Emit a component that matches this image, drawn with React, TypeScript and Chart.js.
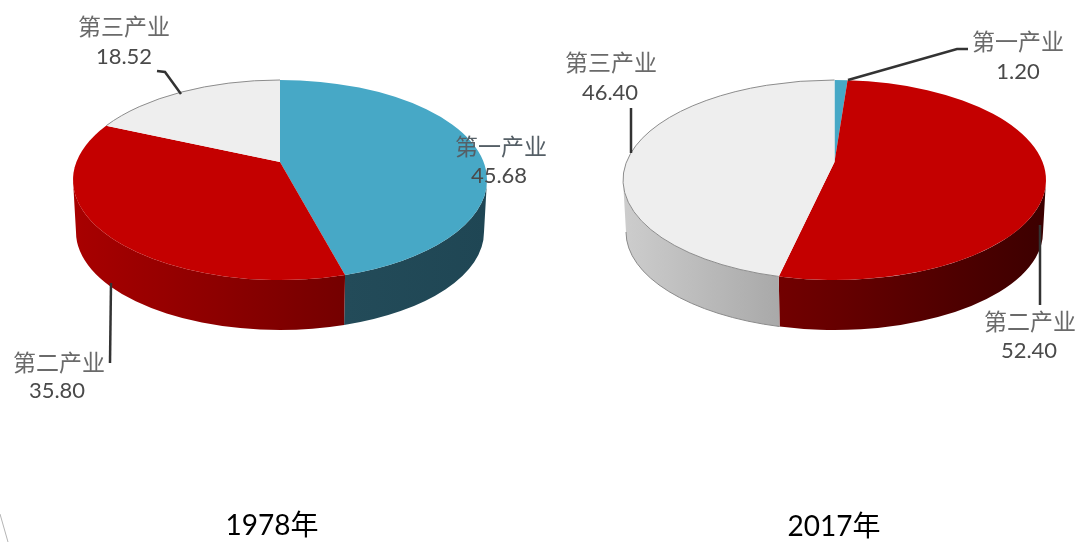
import React, { useEffect, useRef } from "react";
import { Chart, registerables } from "chart.js";

Chart.register(...registerables);

const categories = ["第一产业", "第二产业", "第三产业"];
const values1978 = [45.68, 35.8, 18.52];
const values2017 = [1.2, 52.4, 46.4];
const years = ["1978年", "2017年"];

const topColors = ["#47a8c6", "#c40000", "#eeeeee"];

const layouts = [
  {
    cx: 280, rx: 207,
    title: 272, titleY: 526,
    walls: [["#234b59", "#1f4654"], ["#a80000", "#740000"], ["#ccc", "#aaa"]],
    labels: [
      { x: 501, y: 146, nx: 499, ny: 176, line: [] },
      { x: 59, y: 362, nx: 57, ny: 391, line: [[110, 363], [111, 283]] },
      { x: 124, y: 26, nx: 124, ny: 57, line: [[157, 71], [165, 72], [181, 94]] },
    ],
  },
  {
    cx: 834.5, rx: 211.5,
    title: 834, titleY: 527,
    walls: [["#234b59", "#1f4654"], ["#720000", "#3c0000"], ["#cdcdcd", "#a9a9a9"]],
    labels: [
      { x: 1018, y: 41, nx: 1018, ny: 72, line: [[968, 49], [957, 49], [848, 80]] },
      { x: 1030, y: 321, nx: 1029, ny: 351, line: [[1040, 305], [1040, 225]] },
      { x: 611, y: 62, nx: 610, ny: 93, line: [[631, 108], [631, 153]] },
    ],
  },
];

const CY = 180;
const RY = 100;
const APEX_DY = -18;
const WALL_BOTTOM_CY = 232;
const WALL_BOTTOM_RY = 98;
const WALL_RX_INSET = 3;
const TAU = Math.PI * 2;

// Perspective: a ray leaves the off-centre apex and meets the rim ellipse.
function rimParam(angle: number, rx: number) {
  const dx = Math.cos(angle);
  const dy = Math.sin(angle);
  const c = APEX_DY / RY;
  const b = c * dy;
  const s = -b + Math.sqrt(b * b - (c * c - 1));
  const x = s * dx;
  const y = c + s * dy;
  return Math.atan2(y, x);
}

function makePlugin(layoutIndex: number) {
  const L = layouts[layoutIndex];
  return {
    id: "pie3d" + layoutIndex,
    beforeDatasetsDraw(chart: any) {
      const ctx = chart.ctx;
      const arcs = chart.getDatasetMeta(0).data;
      const { cx, rx } = L;
      const apexY = CY + APEX_DY;
      const rxb = rx - WALL_RX_INSET;

      const spans = arcs.map((el: any) => {
        let t0 = rimParam(el.startAngle, rx);
        let t1 = rimParam(el.endAngle, rx);
        while (t0 < 0) t0 += TAU;
        while (t1 <= t0) t1 += TAU;
        return [t0, t1];
      });

      // side walls
      spans.forEach(([t0, t1]: number[], i: number) => {
        [[0, Math.PI], [TAU, TAU + Math.PI]].forEach(([lo, hi]) => {
          const a = Math.max(t0, lo);
          const b = Math.min(t1, hi);
          if (b <= a) return;
          const xa = cx + rx * Math.cos(a);
          const xb = cx + rx * Math.cos(b);
          const g = ctx.createLinearGradient(Math.min(xa, xb), 0, Math.max(xa, xb), 0);
          const [c0, c1] = L.walls[i];
          g.addColorStop(0, c0);
          g.addColorStop(1, c1);
          ctx.beginPath();
          ctx.ellipse(cx, CY, rx, RY, 0, a, b);
          ctx.ellipse(cx, WALL_BOTTOM_CY, rxb, WALL_BOTTOM_RY, 0, b, a, true);
          ctx.closePath();
          ctx.fillStyle = g;
          ctx.fill();
          if (i === 2) {
            ctx.strokeStyle = "#8a8a8a";
            ctx.lineWidth = 1;
            ctx.beginPath();
            ctx.ellipse(cx, WALL_BOTTOM_CY, rxb, WALL_BOTTOM_RY, 0, b, a, true);
            ctx.stroke();
          }
        });
      });

      // top faces
      spans.forEach(([t0, t1]: number[], i: number) => {
        ctx.beginPath();
        ctx.moveTo(cx, apexY);
        ctx.ellipse(cx, CY, rx, RY, 0, t0, t1);
        ctx.closePath();
        ctx.fillStyle = arcs[i].options.backgroundColor;
        ctx.fill();
        if (i === 2) {
          ctx.strokeStyle = "#8c8c8c";
          ctx.lineWidth = 1;
          ctx.beginPath();
          ctx.ellipse(cx, CY, rx, RY, 0, t0, t1);
          ctx.stroke();
        }
      });
      return false;
    },
    afterDraw(chart: any) {
      const ctx = chart.ctx;
      ctx.save();
      ctx.textAlign = "center";
      ctx.textBaseline = "middle";
      const data = chart.data.datasets[0].data;
      L.labels.forEach((lab, i) => {
        if (lab.line.length) {
          ctx.strokeStyle = "#333333";
          ctx.lineWidth = 2.5;
          ctx.beginPath();
          lab.line.forEach(([x, y]: number[], k: number) => (k ? ctx.lineTo(x, y) : ctx.moveTo(x, y)));
          ctx.stroke();
        }
        ctx.fillStyle = i === 0 && layoutIndex === 0 ? "#555f66" : "#6a6a6a";
        ctx.font = '23px "Noto Sans CJK SC"';
        ctx.fillText(chart.data.labels[i], lab.x, lab.y);
        ctx.fillStyle = "#4a4a4a";
        ctx.font = "22px Lato";
        ctx.fillText(data[i].toFixed(2), lab.nx, lab.ny);
      });
      ctx.fillStyle = "#000000";
      ctx.font = '28px Lato, "Noto Sans CJK SC"';
      ctx.fillText(years[layoutIndex], L.title, L.titleY);
      if (layoutIndex === 0) {
        ctx.strokeStyle = "#b5b5b5";
        ctx.lineWidth = 1;
        ctx.beginPath();
        ctx.moveTo(0, 514);
        ctx.quadraticCurveTo(4, 528, 8, 542);
        ctx.stroke();
      }
      ctx.restore();
    },
  };
}

function PieCanvas({ values, index }: { values: number[]; index: number }) {
  const ref = useRef<HTMLCanvasElement>(null);
  useEffect(() => {
    const chart = new Chart(ref.current as HTMLCanvasElement, {
      type: "pie",
      data: {
        labels: categories,
        datasets: [{ data: values, backgroundColor: topColors, borderWidth: 0 }],
      },
      options: {
        animation: false,
        responsive: false,
        devicePixelRatio: 1,
        plugins: { legend: { display: false }, tooltip: { enabled: false } },
      },
      plugins: [makePlugin(index)],
    } as any);
    return () => chart.destroy();
  }, []);
  return (
    <canvas
      ref={ref}
      width={1081}
      height={542}
      style={{ position: "absolute", left: 0, top: 0, width: 1081, height: 542 }}
    />
  );
}

export default function App() {
  return (
    <div style={{ position: "fixed", left: 0, top: 0, width: 1081, height: 542, background: "#fff", overflow: "hidden" }}>
      <PieCanvas values={values1978} index={0} />
      <PieCanvas values={values2017} index={1} />
    </div>
  );
}
